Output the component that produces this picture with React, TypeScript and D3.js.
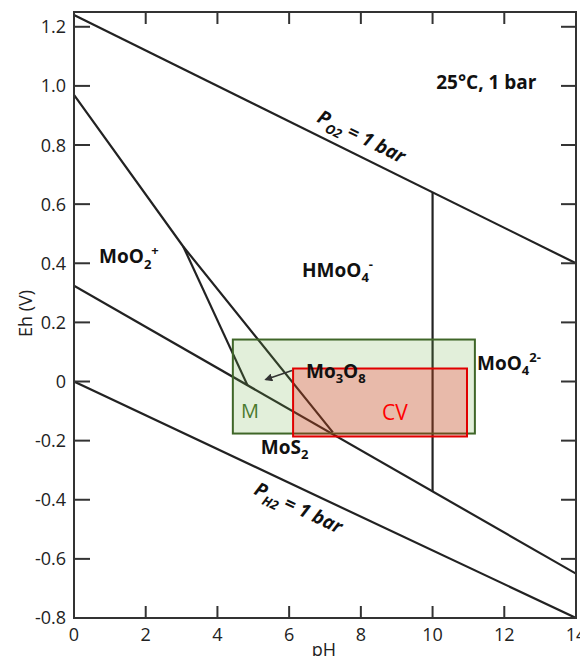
import React from "react";
import * as d3 from "d3";

// ---- data ----
const phTicks = [0, 2, 4, 6, 8, 10, 12, 14];
const ehTicks = [-0.8, -0.6, -0.4, -0.2, 0, 0.2, 0.4, 0.6, 0.8, 1.0, 1.2];
const ehTickLabels = ["-0.8", "-0.6", "-0.4", "-0.2", "0", "0.2", "0.4", "0.6", "0.8", "1.0", "1.2"];

const o2LinePH = [0, 14];
const o2LineEh = [1.24, 0.4];
const h2LinePH = [0, 14];
const h2LineEh = [0.0, -0.8];
const hmoo4LowerPH = [0, 3.05, 7.22];
const hmoo4LowerEh = [0.97, 0.456, -0.172];
const moo2Mo3o8PH = [3.05, 4.84];
const moo2Mo3o8Eh = [0.456, -0.013];
const sulfidePH = [0, 14];
const sulfideEh = [0.324, -0.65];
const moo4PH = [10.0, 10.0];
const moo4Eh = [0.64, -0.372];

const greenBoxPH = [4.43, 11.18];
const greenBoxEh = [0.142, -0.176];
const redBoxPH = [6.11, 10.96];
const redBoxEh = [0.044, -0.186];

const arrowPH = [6.08, 5.35];
const arrowEh = [0.037, 0.007];

const W = 580;
const H = 656;
const x = d3.scaleLinear().domain([0, 14]).range([74, 576]);
const y = d3.scaleLinear().domain([-0.8, 1.25]).range([618, 12]);

const FONT = "'Open Sans', 'Liberation Sans', sans-serif";

function pathOf(ph: number[], eh: number[]) {
  const pts = ph.map((p, i) => [p, eh[i]] as [number, number]);
  return d3.line<[number, number]>().x((d) => x(d[0])).y((d) => y(d[1]))(pts) || "";
}

function angleOf(ph: number[], eh: number[]) {
  return (Math.atan2(y(eh[1]) - y(eh[0]), x(ph[1]) - x(ph[0])) * 180) / Math.PI;
}

type Part = { t: string; k?: "sub" | "sup" };

function Chem({ px, py, parts, size = 19, fill = "#111", weight = 700, italic = false, rotate = 0 }: any) {
  const sub = Math.round(size * 0.68);
  let shift = 0;
  const spans = (parts as Part[]).map((p, i) => {
    const target = p.k === "sub" ? size * 0.3 : p.k === "sup" ? -size * 0.42 : 0;
    const dy = target - shift;
    shift = target;
    return (
      <tspan key={i} dy={dy} fontSize={p.k ? sub : size}>
        {p.t}
      </tspan>
    );
  });
  return (
    <text
      x={px}
      y={py}
      fontFamily={FONT}
      fontSize={size}
      fontWeight={weight}
      fontStyle={italic ? "italic" : "normal"}
      fill={fill}
      transform={rotate ? `rotate(${rotate},${px},${py})` : undefined}
    >
      {spans}
    </text>
  );
}

export default function App() {
  const lineColor = "#222";
  const frameColor = "#333";
  const o2Angle = angleOf(o2LinePH, o2LineEh);
  const h2Angle = angleOf(h2LinePH, h2LineEh);
  const x0 = x(0), x1 = x(14), yTop = y(1.25), yBot = y(-0.8);

  return (
    <>
      <style>{`body{margin:0}`}</style>
      <svg width={W} height={H} style={{ display: "block" }}>
        <defs>
          <marker id="ah" viewBox="0 0 10 10" refX="8" refY="5" markerWidth="5" markerHeight="5" orient="auto">
            <path d="M0,0 L10,5 L0,10 z" fill="#333" />
          </marker>
          <clipPath id="plot">
            <rect x={x0} y={yTop} width={x1 - x0} height={yBot - yTop} />
          </clipPath>
        </defs>
        <rect width={W} height={H} fill="#fff" />

        {/* boundaries */}
        <g clipPath="url(#plot)" fill="none" stroke={lineColor} strokeWidth={2.2}>
          <path d={pathOf(o2LinePH, o2LineEh)} />
          <path d={pathOf(h2LinePH, h2LineEh)} />
          <path d={pathOf(hmoo4LowerPH, hmoo4LowerEh)} />
          <path d={pathOf(moo2Mo3o8PH, moo2Mo3o8Eh)} />
          <path d={pathOf(sulfidePH, sulfideEh)} />
          <path d={pathOf(moo4PH, moo4Eh)} />
        </g>

        {/* highlight boxes */}
        <rect
          x={x(greenBoxPH[0])}
          y={y(greenBoxEh[0])}
          width={x(greenBoxPH[1]) - x(greenBoxPH[0])}
          height={y(greenBoxEh[1]) - y(greenBoxEh[0])}
          fill="rgba(112,173,71,0.2)"
          stroke="#3f6628"
          strokeWidth={2}
        />
        <rect
          x={x(redBoxPH[0])}
          y={y(redBoxEh[0])}
          width={x(redBoxPH[1]) - x(redBoxPH[0])}
          height={y(redBoxEh[1]) - y(redBoxEh[0])}
          fill="rgba(255,0,0,0.22)"
          stroke="#e00000"
          strokeWidth={2}
        />

        {/* arrow */}
        <path d={pathOf(arrowPH, arrowEh)} stroke="#333" strokeWidth={1.6} fill="none" markerEnd="url(#ah)" />

        {/* frame */}
        <rect x={x0} y={yTop} width={x1 - x0} height={yBot - yTop} fill="none" stroke={frameColor} strokeWidth={2} />

        {/* ticks */}
        <g stroke={frameColor} strokeWidth={2}>
          {ehTicks.map((t) => (
            <g key={"ey" + t}>
              <line x1={x0} x2={x0 + 16} y1={y(t)} y2={y(t)} />
              <line x1={x1} x2={x1 - 15} y1={y(t)} y2={y(t)} />
            </g>
          ))}
          {phTicks.slice(1, -1).map((t) => (
            <g key={"px" + t}>
              <line x1={x(t)} x2={x(t)} y1={yBot} y2={yBot - 12} />
              <line x1={x(t)} x2={x(t)} y1={yTop} y2={yTop + 12} />
            </g>
          ))}
        </g>

        {/* tick labels */}
        <g fontFamily={FONT} fontSize={18} fill="#222">
          {ehTicks.map((t, i) => (
            <text key={"yl" + t} x={x0 - 8} y={y(t)} dy="0.36em" textAnchor="end">
              {ehTickLabels[i]}
            </text>
          ))}
          {phTicks.map((t) => (
            <text key={"xl" + t} x={x(t)} y={yBot + 23} textAnchor="middle">
              {t}
            </text>
          ))}
        </g>

        {/* axis titles */}
        <text x={(x0 + x1) / 2 - 1} y={656} textAnchor="middle" fontFamily={FONT} fontSize={18} fill="#222">
          pH
        </text>
        <text
          transform={`translate(32,${y(0.23)}) rotate(-90)`}
          textAnchor="middle"
          fontFamily={FONT}
          fontSize={18}
          fill="#222"
        >
          Eh (V)
        </text>

        {/* region labels */}
        <Chem px={x(10.1)} py={y(0.988)} parts={[{ t: "25°C, 1 bar" }]} />
        <Chem px={x(0.7)} py={y(0.4)} parts={[{ t: "MoO" }, { t: "2", k: "sub" }, { t: "+", k: "sup" }]} />
        <Chem px={x(6.36)} py={y(0.355)} parts={[{ t: "HMoO" }, { t: "4", k: "sub" }, { t: "-", k: "sup" }]} />
        <Chem px={x(11.24)} py={y(0.04)} parts={[{ t: "MoO" }, { t: "4", k: "sub" }, { t: "2-", k: "sup" }]} />
        <Chem px={x(6.47)} py={y(0.013)} parts={[{ t: "Mo" }, { t: "3", k: "sub" }, { t: "O" }, { t: "8", k: "sub" }]} />
        <Chem px={x(5.21)} py={y(-0.244)} parts={[{ t: "MoS" }, { t: "2", k: "sub" }]} />
        <Chem px={x(4.66)} py={y(-0.122)} parts={[{ t: "M" }]} size={20} weight={400} fill="#4a7a2e" />
        <Chem px={x(8.59)} py={y(-0.129)} parts={[{ t: "CV" }]} size={21} weight={400} fill="#ff0000" />
        <Chem
          px={x(6.75)}
          py={y(0.88)}
          rotate={o2Angle}
          italic
          parts={[{ t: "P" }, { t: "O2", k: "sub" }, { t: " = 1 bar" }]}
        />
        <Chem
          px={x(4.99)}
          py={y(-0.379)}
          rotate={h2Angle}
          italic
          parts={[{ t: "P" }, { t: "H2", k: "sub" }, { t: " = 1 bar" }]}
        />
      </svg>
    </>
  );
}
